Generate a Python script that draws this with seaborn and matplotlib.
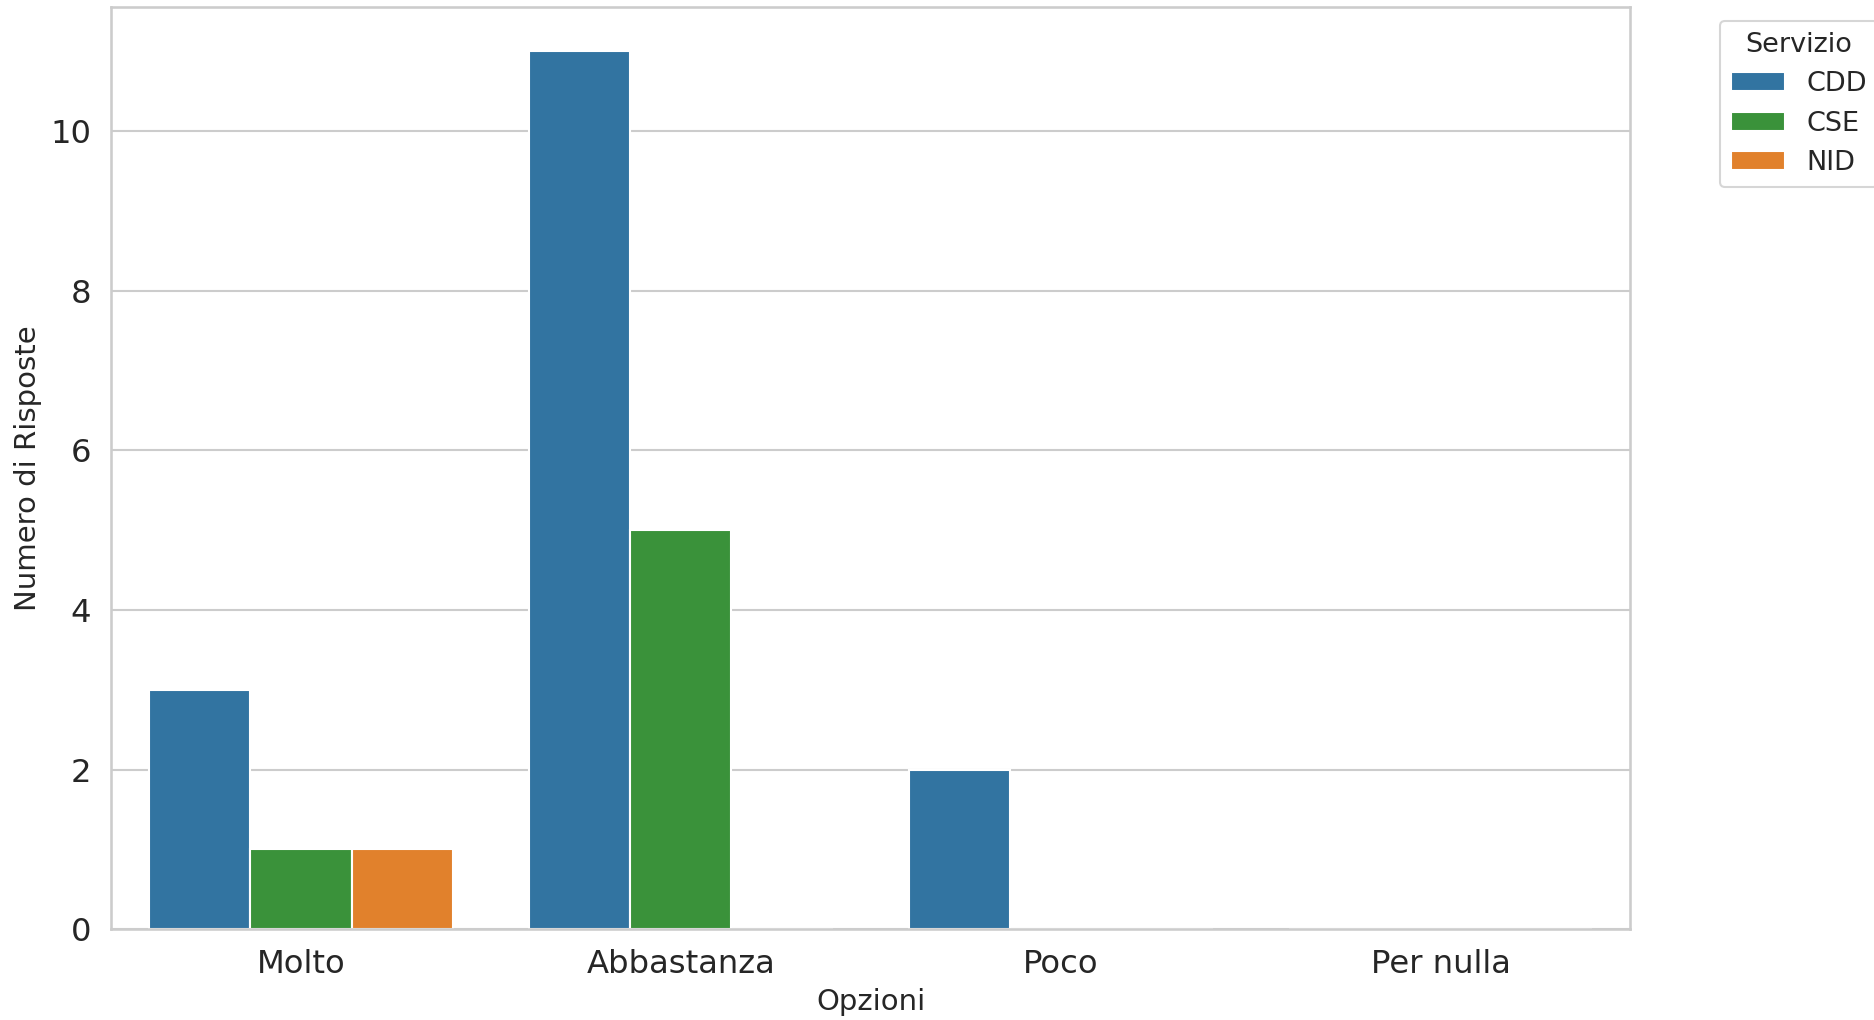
import pandas as pd
import matplotlib
matplotlib.use("Agg")
import matplotlib.pyplot as plt
import seaborn as sns

# dati
opzioni = ["Molto", "Abbastanza", "Poco", "Per nulla"]
servizi = ["CDD", "CSE", "NID"]
cdd = [3, 11, 2, 0]
cse = [1, 5, 0, 0]
nid = [1, 0, 0, 0]

righe = []
for serv, valori in zip(servizi, [cdd, cse, nid]):
    for opz, v in zip(opzioni, valori):
        righe.append({"Opzioni": opz, "Servizio": serv, "Conteggio": v})
data = pd.DataFrame(righe)

sns.set(style="whitegrid")
plt.rcParams["font.family"] = ["DejaVu Sans"]

palette = {"CDD": "tab:blue", "CSE": "tab:green", "NID": "tab:orange"}

fig = plt.figure(figsize=(1874 / 150, 1020 / 150), dpi=150)
ax = fig.add_axes([0.0592, 0.089, 0.8108, 0.904])
sns.barplot(data=data, x="Opzioni", y="Conteggio", hue="Servizio",
            order=opzioni, hue_order=servizi, palette=palette, ax=ax)
ax.set_xlabel("Opzioni", fontsize=14)
ax.set_ylabel("Numero di Risposte", fontsize=14)
ax.tick_params(axis="both", labelsize=15.5)
ax.legend(title="Servizio", bbox_to_anchor=(1.05, 1), loc="upper left",
          fontsize=13, title_fontsize=13)

fig.savefig("out.png", dpi=150)
